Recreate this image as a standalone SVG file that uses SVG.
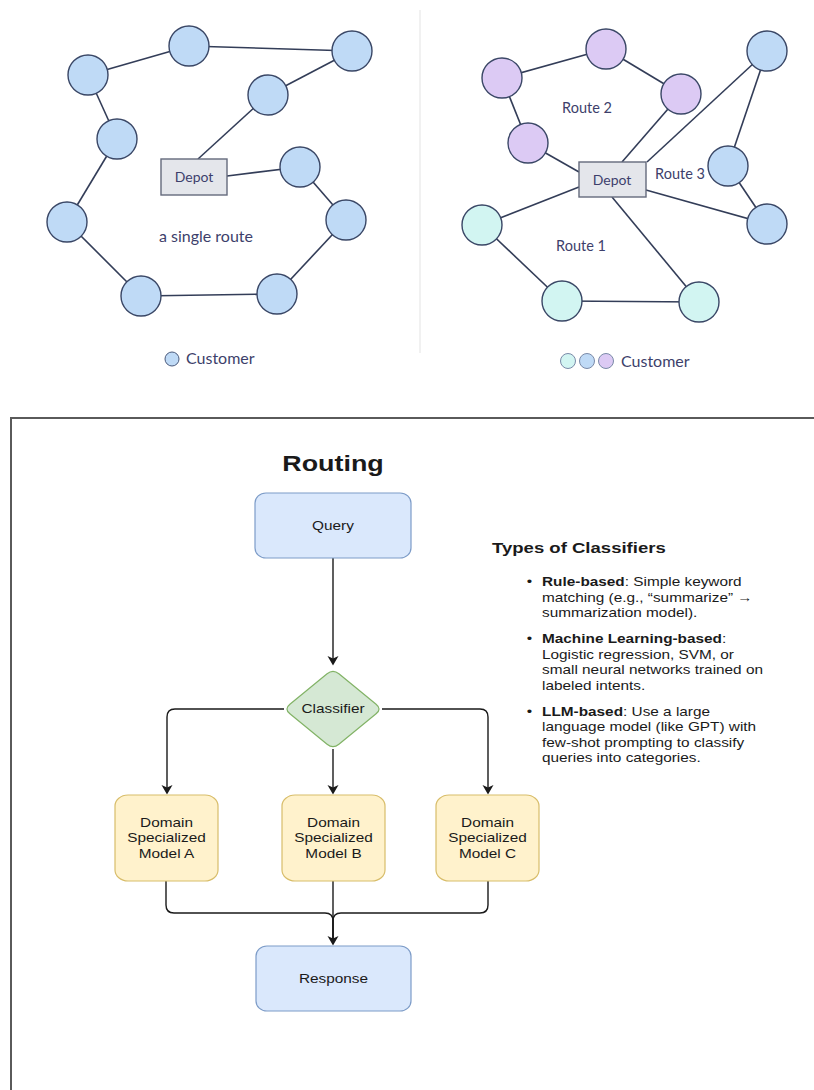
<svg xmlns="http://www.w3.org/2000/svg" width="814" height="1090" viewBox="0 0 814 1090">
  <defs>
    <style>
      .edge { stroke: #333d58; stroke-width: 1.6; fill: none; }
      .cust { stroke: #3a4766; stroke-width: 1.4; }
      .blue { fill: #bfdaf6; }
      .purple { fill: #dccaf4; }
      .teal { fill: #d2f5f2; }
      .depot { fill: #e4e6eb; stroke: #646a7c; stroke-width: 1.4; }
      .lbl { font-family: Lato, "Open Sans", sans-serif; fill: #3d3f6b; }
      .flow { stroke: #1a1a1a; stroke-width: 1.4; fill: none; }
      .bluebox { fill: #dae8fc; stroke: #7d9cc8; stroke-width: 1.2; }
      .yellowbox { fill: #fff2cc; stroke: #d8bd6a; stroke-width: 1.2; }
      .diamond { fill: #d5e8d4; stroke: #82b366; stroke-width: 1.2; }
      .ft { font-family: "Liberation Sans", Arial, sans-serif; fill: #1a1a1a; }
      .f12 { font-size: 12px; }
      .title { font-size: 21px; font-weight: bold; }
      .heading { font-size: 14.5px; font-weight: bold; }
    </style>
    <marker id="arrow" viewBox="-10 -6 12 12" refX="0" refY="0" markerWidth="12" markerHeight="12" markerUnits="userSpaceOnUse" orient="auto">
      <path d="M1.5,0 L-8,-5.5 L-5.5,0 L-8,5.5 Z" fill="#1a1a1a"/>
    </marker>
  </defs>
  <rect width="814" height="1090" fill="#ffffff"/>

  <!-- ===== Single route (left) ===== -->
  <g id="single-route-edges">
    <line class="edge" x1="88" y1="75" x2="189" y2="46"/>
    <line class="edge" x1="189" y1="46" x2="352" y2="51"/>
    <line class="edge" x1="352" y1="51" x2="268" y2="95"/>
    <line class="edge" x1="268" y1="95" x2="198" y2="159"/>
    <line class="edge" x1="227" y1="176" x2="300" y2="167"/>
    <line class="edge" x1="300" y1="167" x2="346" y2="220"/>
    <line class="edge" x1="346" y1="220" x2="277" y2="294"/>
    <line class="edge" x1="277" y1="294" x2="141" y2="296"/>
    <line class="edge" x1="141" y1="296" x2="67" y2="222"/>
    <line class="edge" x1="67" y1="222" x2="117" y2="139"/>
    <line class="edge" x1="117" y1="139" x2="88" y2="75"/>
  </g>
  <g id="single-route-nodes">
    <circle class="cust blue" cx="88" cy="75" r="20"/>
    <circle class="cust blue" cx="189" cy="46" r="20"/>
    <circle class="cust blue" cx="352" cy="51" r="20"/>
    <circle class="cust blue" cx="268" cy="95" r="20"/>
    <circle class="cust blue" cx="117" cy="139" r="20"/>
    <circle class="cust blue" cx="300" cy="167" r="20"/>
    <circle class="cust blue" cx="67" cy="222" r="20"/>
    <circle class="cust blue" cx="346" cy="220" r="20"/>
    <circle class="cust blue" cx="141" cy="296" r="20"/>
    <circle class="cust blue" cx="277" cy="294" r="20"/>
  </g>
  <g id="depot-left">
    <rect class="depot" x="161" y="159" width="66" height="36"/>
    <text class="lbl" x="194" y="182" font-size="14" text-anchor="middle">Depot</text>
  </g>
  <text class="lbl" x="206" y="242" font-size="16" text-anchor="middle">a single route</text>
  <g id="legend-left">
    <circle class="blue" cx="172" cy="359" r="7" stroke="#4a5a7c" stroke-width="1"/>
    <text class="lbl" x="186" y="364" font-size="16">Customer</text>
  </g>

  <!-- divider -->
  <line x1="420" y1="10" x2="420" y2="353" stroke="#e8e8e8" stroke-width="1.2"/>

  <!-- ===== Three routes (right) ===== -->
  <g id="multi-route-edges">
    <line class="edge" x1="502" y1="78" x2="606" y2="49"/>
    <line class="edge" x1="606" y1="49" x2="681" y2="94"/>
    <line class="edge" x1="681" y1="94" x2="622" y2="162"/>
    <line class="edge" x1="502" y1="78" x2="528" y2="143"/>
    <line class="edge" x1="528" y1="143" x2="579" y2="172"/>
    <line class="edge" x1="767" y1="51" x2="647" y2="162"/>
    <line class="edge" x1="767" y1="51" x2="728" y2="166"/>
    <line class="edge" x1="728" y1="166" x2="767" y2="224"/>
    <line class="edge" x1="767" y1="224" x2="646" y2="190"/>
    <line class="edge" x1="482" y1="225" x2="579" y2="187"/>
    <line class="edge" x1="482" y1="225" x2="562" y2="301"/>
    <line class="edge" x1="562" y1="301" x2="699" y2="302"/>
    <line class="edge" x1="699" y1="302" x2="612" y2="197"/>
  </g>
  <g id="route2-nodes">
    <circle class="cust purple" cx="502" cy="78" r="20"/>
    <circle class="cust purple" cx="606" cy="49" r="20"/>
    <circle class="cust purple" cx="681" cy="94" r="20"/>
    <circle class="cust purple" cx="528" cy="143" r="20"/>
  </g>
  <g id="route3-nodes">
    <circle class="cust blue" cx="767" cy="51" r="20"/>
    <circle class="cust blue" cx="728" cy="166" r="20"/>
    <circle class="cust blue" cx="767" cy="224" r="20"/>
  </g>
  <g id="route1-nodes">
    <circle class="cust teal" cx="482" cy="225" r="20"/>
    <circle class="cust teal" cx="562" cy="301" r="20"/>
    <circle class="cust teal" cx="699" cy="302" r="20"/>
  </g>
  <g id="depot-right">
    <rect class="depot" x="579" y="162" width="67" height="35"/>
    <text class="lbl" x="612" y="185" font-size="14" text-anchor="middle">Depot</text>
  </g>
  <text class="lbl" x="587" y="113" font-size="14.5" text-anchor="middle">Route 2</text>
  <text class="lbl" x="680" y="179" font-size="14.5" text-anchor="middle">Route 3</text>
  <text class="lbl" x="581" y="251" font-size="14.5" text-anchor="middle">Route 1</text>
  <g id="legend-right">
    <circle class="teal" cx="568" cy="361" r="7.5" stroke="#7a8aa8" stroke-width="1"/>
    <circle class="blue" cx="587" cy="361" r="7.5" stroke="#7a8aa8" stroke-width="1"/>
    <circle class="purple" cx="606" cy="361" r="7.5" stroke="#7a8aa8" stroke-width="1"/>
    <text class="lbl" x="621" y="367" font-size="16">Customer</text>
  </g>

  <!-- ===== Routing flowchart ===== -->
  <path d="M11,1090 V418 H814" fill="none" stroke="#5a5a5a" stroke-width="2"/>

  <text class="ft title" text-anchor="middle" transform="translate(333,471) scale(1.28,1.06)">Routing</text>

  <g id="flow-connectors">
    <line class="flow" x1="333" y1="558" x2="333" y2="664" marker-end="url(#arrow)"/>
    <path class="flow" d="M284,709 H175 Q167,709 167,717 V793" marker-end="url(#arrow)"/>
    <line class="flow" x1="333" y1="749" x2="333" y2="793" marker-end="url(#arrow)"/>
    <path class="flow" d="M382,709 H480 Q488,709 488,717 V793" marker-end="url(#arrow)"/>
    <path class="flow" d="M166,881 V905 Q166,913 174,913 H325 Q333,913 333,921 V944"/>
    <path class="flow" d="M488,881 V905 Q488,913 480,913 H341 Q333,913 333,921 V944"/>
    <line class="flow" x1="333" y1="881" x2="333" y2="944" marker-end="url(#arrow)"/>
  </g>

  <g id="query">
    <rect class="bluebox" x="255" y="493" width="156" height="65" rx="11" ry="10"/>
    <text class="ft f12" text-anchor="middle" transform="translate(333,530) scale(1.28,1.06)">Query</text>
  </g>

  <g id="classifier">
    <path class="diamond" d="M327.1,673.8 Q333,669 338.9,673.8 L376.1,704.2 Q382,709 376.1,713.8 L338.9,744.2 Q333,749 327.1,744.2 L289.9,713.8 Q284,709 289.9,704.2 Z"/>
    <text class="ft f12" text-anchor="middle" transform="translate(333,713) scale(1.28,1.06)">Classifier</text>
  </g>

  <g id="model-a">
    <rect class="yellowbox" x="115" y="795" width="103" height="86" rx="13" ry="11"/>
    <text class="ft f12" text-anchor="middle" transform="translate(166.5,827) scale(1.28,1.06)">
      <tspan x="0" y="0">Domain</tspan><tspan x="0" y="14.4">Specialized</tspan><tspan x="0" y="28.8">Model A</tspan>
    </text>
  </g>
  <g id="model-b">
    <rect class="yellowbox" x="282" y="795" width="103" height="86" rx="13" ry="11"/>
    <text class="ft f12" text-anchor="middle" transform="translate(333.5,827) scale(1.28,1.06)">
      <tspan x="0" y="0">Domain</tspan><tspan x="0" y="14.4">Specialized</tspan><tspan x="0" y="28.8">Model B</tspan>
    </text>
  </g>
  <g id="model-c">
    <rect class="yellowbox" x="436" y="795" width="103" height="86" rx="13" ry="11"/>
    <text class="ft f12" text-anchor="middle" transform="translate(487.5,827) scale(1.28,1.06)">
      <tspan x="0" y="0">Domain</tspan><tspan x="0" y="14.4">Specialized</tspan><tspan x="0" y="28.8">Model C</tspan>
    </text>
  </g>

  <g id="response">
    <rect class="bluebox" x="256" y="946" width="155" height="65" rx="11" ry="10"/>
    <text class="ft f12" text-anchor="middle" transform="translate(333.5,983) scale(1.28,1.06)">Response</text>
  </g>

  <!-- classifier notes -->
  <g id="classifier-types">
    <text class="ft heading" transform="translate(492,553) scale(1.28,1.06)">Types of Classifiers</text>
    <g class="ft f12" transform="translate(542,586) scale(1.28,1.06)">
      <text x="-12" y="0">•</text>
      <text x="0" y="0"><tspan font-weight="bold">Rule-based</tspan>: Simple keyword</text>
      <text x="0" y="15.1">matching (e.g., “summarize” →</text>
      <text x="0" y="29.2">summarization model).</text>
      <text x="-12" y="53.8">•</text>
      <text x="0" y="53.8"><tspan font-weight="bold">Machine Learning-based</tspan>:</text>
      <text x="0" y="68.9">Logistic regression, SVM, or</text>
      <text x="0" y="83.0">small neural networks trained on</text>
      <text x="0" y="98.1">labeled intents.</text>
      <text x="-12" y="122.6">•</text>
      <text x="0" y="122.6"><tspan font-weight="bold">LLM-based</tspan>: Use a large</text>
      <text x="0" y="136.8">language model (like GPT) with</text>
      <text x="0" y="151.9">few-shot prompting to classify</text>
      <text x="0" y="166.0">queries into categories.</text>
    </g>
  </g>
</svg>
